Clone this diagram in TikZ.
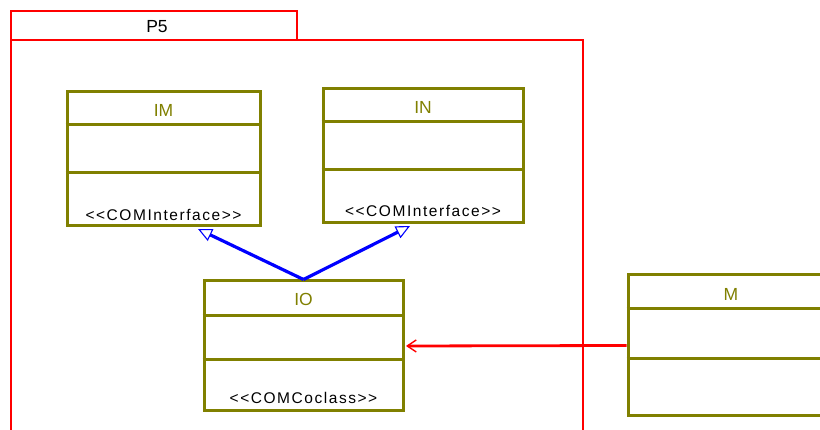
\documentclass[tikz,border=0pt]{standalone}
\usepackage{fontspec}
\setmainfont{Liberation Sans}
\newfontfamily\stereofont[LetterSpace=10]{Liberation Sans}
\usetikzlibrary{arrows.meta}
\definecolor{olivec}{RGB}{128,128,0}
\definecolor{pkgred}{RGB}{255,0,0}
\definecolor{realblue}{RGB}{0,0,255}
\begin{document}
\begin{tikzpicture}[x=1pt,y=-1pt,
  cls/.style={draw=olivec,line width=3pt,fill=white,inner sep=0pt},
  divider/.style={draw=olivec,line width=3pt},
  pkg/.style={draw=pkgred,line width=2.8pt,inner sep=0pt},
  ctitle/.style={text=olivec,font=\fontsize{17.5}{19}\selectfont,inner sep=0pt},
  stereo/.style={text=black,font=\stereofont\fontsize{15.5}{17}\selectfont,inner sep=0pt},
  realize/.style={draw=realblue,line width=3.2pt,-{Triangle[fill=white,length=14pt,width=13pt,line width=1.1pt]}},
  dep/.style={draw=pkgred,line width=2.8pt,-{Straight Barb[length=9pt,width=12pt,line width=1.4pt]}}
]
\useasboundingbox (0,0) rectangle (820,430);
\begin{scope}
\clip (0,0) rectangle (820,430);
% package P5
\node[pkg,minimum width=572pt,minimum height=420pt] (body) at (297,250) {};
\node[pkg,minimum width=286pt,minimum height=29pt] (tab) at (154,25.5) {};
\node[inner sep=0pt,font=\fontsize{17.5}{19}\selectfont] (p5) at (157,27) {P5};

% IM
\node[cls,minimum width=193pt,minimum height=134pt] (IM) at (163.5,159) {};
\draw[divider] ([yshift=-34pt]IM.north west) -- ([yshift=-34pt]IM.north east);
\draw[divider] ([yshift=-82pt]IM.north west) -- ([yshift=-82pt]IM.north east);
\node[ctitle] (IMt) at ([yshift=-20pt]IM.north) {IM};
\node[stereo] (IMs) at ([yshift=13pt]IM.south) {<<COMInterface>>};

% IN
\node[cls,minimum width=200pt,minimum height=134pt] (IN) at (423,156) {};
\draw[divider] ([yshift=-34pt]IN.north west) -- ([yshift=-34pt]IN.north east);
\draw[divider] ([yshift=-82pt]IN.north west) -- ([yshift=-82pt]IN.north east);
\node[ctitle] (INt) at ([yshift=-20pt]IN.north) {IN};
\node[stereo] (INs) at ([yshift=14pt]IN.south) {<<COMInterface>>};

% IO
\node[cls,minimum width=199pt,minimum height=130pt] (IO) at (303.5,346) {};
\draw[divider] ([yshift=-36pt]IO.north west) -- ([yshift=-36pt]IO.north east);
\draw[divider] ([yshift=-80pt]IO.north west) -- ([yshift=-80pt]IO.north east);
\node[ctitle] (IOt) at ([yshift=-20pt]IO.north) {IO};
\node[stereo] (IOs) at ([yshift=15pt]IO.south) {<<COMCoclass>>};

% M
\node[cls,minimum width=206pt,minimum height=141pt] (M) at (731,345.5) {};
\draw[divider] ([yshift=-35pt]M.north west) -- ([yshift=-35pt]M.north east);
\draw[divider] ([yshift=-85pt]M.north west) -- ([yshift=-85pt]M.north east);
\node[ctitle] (Mt) at ([yshift=-21pt]M.north) {M};

% connectors
\draw[realize] (IO.north) -- ([xshift=34.5pt,yshift=-1.5pt]IM.south);
\draw[realize] (IO.north) -- ([xshift=-13pt,yshift=-1.5pt]IN.south);
\draw[dep] (M.west) -- ([xshift=1.5pt]IO.east);
\end{scope}
\end{tikzpicture}
\end{document}
